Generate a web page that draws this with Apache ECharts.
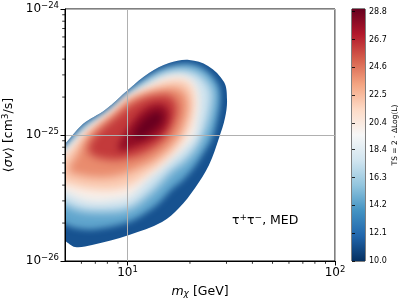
<!DOCTYPE html>
<html><head><meta charset="utf-8">
<script src="https://cdn.jsdelivr.net/npm/echarts@6/dist/echarts.min.js"></script>
<style>html,body{margin:0;padding:0;background:#fff}#c{width:407px;height:305px}</style>
</head><body><div id="c"></div>
<script>
// ---- data: mass in GeV; <sigma v> in units of 1e-26 cm^3/s ----
const xMajorTicks = [10, 100];
const xMinorTicks = [6, 7, 8, 9, 20, 30, 40, 50, 60, 70, 80, 90];
const yMajorTicks = [1, 10, 100];            // x 1e-26
const yMinorTicks = [2, 3, 4, 5, 6, 7, 8, 9, 20, 30, 40, 50, 60, 70, 80, 90];
const colorbarTicks = [10.0, 12.1, 14.2, 16.3, 18.4, 20.4, 22.5, 24.6, 26.7, 28.8];
const contourLevels = [10, 13, 16, 19, 21, 23, 25, 27, 28.2];
const contour10 = [[4.01,5.99],[5.00,8.48],[6.10,12.2],[7.79,15.8],[10.18,23.2],[12.70,31.0],[15.85,37.2],[19.80,39.4],[24.44,35.3],[29.19,26.3],[30.18,19.0],[29.52,13.7],[27.61,9.47],[24.71,5.78],[21.16,3.80],[17.71,2.63],[14.67,2.04],[10.18,1.61],[6.75,1.34],[5.59,1.29],[5.00,1.44],[4.01,1.70]];
const contour13 = [[4.01,5.68],[5.00,8.03],[6.17,11.8],[7.88,15.2],[10.29,22.4],[12.84,29.4],[15.85,34.6],[19.80,36.6],[23.64,32.8],[27.31,24.9],[27.92,18.7],[27.01,13.2],[25.55,9.47],[23.38,7.33],[21.16,5.68],[18.52,4.40],[16.39,3.73],[14.35,2.94],[12.84,2.54],[10.18,2.04],[6.97,1.79],[5.59,1.83],[5.00,1.97],[4.01,2.36]];
const contour16 = [[4.01,5.48],[5.00,7.74],[6.24,11.4],[7.96,14.7],[10.41,21.6],[13.13,28.3],[16.03,32.2],[19.58,32.8],[22.87,29.4],[25.55,22.8],[25.55,17.6],[24.44,12.7],[23.12,10.0],[21.16,7.60],[18.52,5.99],[16.39,5.18],[14.35,4.08],[12.84,3.40],[10.18,2.59],[6.97,2.45],[5.59,2.59],[5.00,2.83],[4.01,3.28]];
const contour19 = [[4.01,5.09],[5.00,7.33],[6.31,10.8],[7.37,13.2],[8.71,16.1],[10.29,20.4],[13.13,25.4],[15.17,28.8],[17.91,29.9],[20.47,27.3],[21.88,22.0],[22.12,16.4],[21.63,12.7],[21.16,10.0],[18.94,8.03],[16.39,6.56],[14.67,5.57],[12.84,4.65],[10.18,3.22],[8.24,3.00],[6.97,2.94],[5.91,3.11],[5.00,3.53],[4.01,4.08]];
const contour21 = [[4.23,5.28],[5.00,6.82],[6.24,10.18],[7.37,12.7],[8.71,15.5],[10.18,19.7],[12.84,23.6],[15.17,26.3],[17.91,27.3],[20.02,24.9],[20.92,19.7],[20.70,15.2],[20.02,12.0],[18.94,9.82],[17.14,7.74],[15.17,6.33],[12.84,5.09],[10.18,3.94],[8.24,3.66],[6.60,3.73],[5.59,3.94],[5.00,4.16],[4.32,4.56]];
const contour23 = [[5.17,5.28],[5.59,6.56],[5.91,7.74],[6.45,9.82],[7.37,12.0],[8.71,14.9],[10.18,18.7],[12.15,21.2],[14.35,22.8],[16.39,23.6],[18.31,22.4],[19.36,19.0],[19.36,15.2],[18.73,12.7],[17.52,9.82],[15.34,7.60],[13.13,6.22],[11.49,5.57],[10.18,5.09],[8.24,4.65],[6.75,4.65],[5.91,4.82],[5.40,5.00]];
const contour25 = [[6.45,7.60],[6.75,9.13],[7.37,10.8],[8.71,13.7],[10.18,17.0],[12.15,19.7],[14.35,20.8],[16.03,20.4],[17.14,18.3],[17.33,15.2],[16.76,12.7],[15.68,10.18],[14.35,8.64],[12.84,7.60],[11.49,6.94],[10.18,6.56],[8.71,6.33],[7.37,6.56],[6.75,6.94]];
const contour27 = [[9.01,7.88],[9.42,9.47],[10.29,12.0],[11.49,14.9],[12.84,17.0],[14.35,17.6],[15.51,16.4],[15.85,14.1],[15.34,11.8],[14.35,10.18],[12.98,9.13],[11.49,8.33],[10.18,7.74],[9.42,7.46]];
const contour28 = [[10.75,10.0],[11.49,12.2],[12.56,14.1],[13.88,15.2],[14.67,14.4],[14.35,12.4],[13.27,11.0],[12.02,9.82],[11.11,9.47]];
const contours = [contour10, contour13, contour16, contour19, contour21, contour23, contour25, contour27, contour28];

// ---- style ----
const bandTS = [11.2, 14.5, 17.5, 20.0, 22.0, 24.0, 26.2, 27.9, 28.9];
const bandBlur = [0, 6, 10, 9, 8, 8, 9, 7, 6];
const TS_MIN = 10, TS_MAX = 29.0;
const rdbu = ['#053061','#2166ac','#4393c3','#92c5de','#d1e5f0','#f7f7f7','#fddbc7','#f4a582','#d6604d','#b2182b','#67001f'];
function hex2rgb(h){return [parseInt(h.slice(1,3),16),parseInt(h.slice(3,5),16),parseInt(h.slice(5,7),16)];}
function cmap(ts){
  let t = (ts - TS_MIN) / (TS_MAX - TS_MIN); t = Math.max(0, Math.min(1, t));
  const x = t * 10, i = Math.min(9, Math.floor(x)), f = x - i;
  const a = hex2rgb(rdbu[i]), b = hex2rgb(rdbu[i+1]);
  return 'rgb(' + a.map((v,k)=>Math.round(v + (b[k]-v)*f)).join(',') + ')';
}
const FONT = 'DejaVu Sans';
const SHIFT = 3000;

const chart = echarts.init(document.getElementById('c'), null, {renderer:'canvas'});
function powLabel(offset){
  return function(v){
    const e = Math.round(Math.log10(v)) + offset;
    return '{b|10}{s|' + (e < 0 ? '\u2212' + (-e) : e) + '}';
  };
}
const richPow = {
  b:{fontSize:12, fontFamily:FONT, color:'#000', lineHeight:15},
  s:{fontSize:8.5, fontFamily:FONT, color:'#000', verticalAlign:'top', lineHeight:15, padding:[0,0,6,0]}
};
const tickLine = {stroke:'#000', lineWidth:0.8};

const option = {
  animation:false,
  backgroundColor:'#fff',
  grid:[
    {left:65, top:9, width:270, height:252, show:true, borderColor:'#000', borderWidth:1, backgroundColor:'transparent', containLabel:false, outerBoundsMode:'none'},
    {left:352, top:9, width:13, height:252, show:true, borderColor:'#000', borderWidth:1, backgroundColor:'transparent', containLabel:false, outerBoundsMode:'none'}
  ],
  title:{
    text:'\u03c4{s|+}\u03c4{s|\u2212}, MED', left:227, top:208,
    textStyle:{fontSize:12.5, fontWeight:'normal', fontFamily:FONT, color:'#000',
      rich:{s:{fontSize:9, fontFamily:FONT, color:'#000', verticalAlign:'top', padding:[0,0,6,0]}}}
  },
  xAxis:[
    {type:'log', logBase:10, min:5, max:100, gridIndex:0, position:'bottom', z:5,
      name:'{i|m}{sub|\u03c7} [GeV]', nameLocation:'middle', nameGap:23,
      nameTextStyle:{fontSize:12.5, fontFamily:FONT, color:'#000',
        rich:{i:{fontSize:12.5, fontStyle:'italic', fontFamily:FONT}, sub:{fontSize:9, fontFamily:FONT, fontStyle:'italic', verticalAlign:'bottom', padding:[5,0,0,0]}}},
      axisLine:{show:true, lineStyle:{color:'#000', width:1}},
      axisTick:{show:true, length:4.5, customValues:xMajorTicks, lineStyle:{color:'#000', width:1}},
      axisLabel:{show:true, customValues:xMajorTicks, margin:4, formatter:powLabel(0), rich:richPow},
      splitLine:{show:true, lineStyle:{color:'#b0b0b0', width:1}}},
    {type:'value', min:0, max:1, gridIndex:1, show:false}
  ],
  yAxis:[
    {type:'log', logBase:10, min:1, max:100, gridIndex:0, position:'left', z:5,
      name:'\u27e8{i|\u03c3v}\u27e9 [cm{s|3}/s]', nameLocation:'middle', nameGap:44, nameRotate:90,
      nameTextStyle:{fontSize:12.5, fontFamily:FONT, color:'#000',
        rich:{i:{fontSize:12.5, fontStyle:'italic', fontFamily:FONT}, s:{fontSize:9, fontFamily:FONT, verticalAlign:'top', padding:[0,0,6,0]}}},
      axisLine:{show:true, lineStyle:{color:'#000', width:1}},
      axisTick:{show:true, length:4.5, customValues:yMajorTicks, lineStyle:{color:'#000', width:1}},
      axisLabel:{show:true, customValues:yMajorTicks, margin:6, formatter:powLabel(-26), rich:richPow},
      splitLine:{show:true, lineStyle:{color:'#b0b0b0', width:1}}},
    {type:'value', min:TS_MIN, max:TS_MAX, gridIndex:1, position:'right', z:5,
      name:'TS = 2 \u00b7 \u0394Log(L)', nameLocation:'middle', nameGap:25, nameRotate:90,
      nameTextStyle:{fontSize:7.5, fontFamily:FONT, color:'#000'},
      axisLine:{show:false},
      axisTick:{show:true, length:3, customValues:colorbarTicks, lineStyle:{color:'#000', width:0.8}},
      axisLabel:{show:true, customValues:colorbarTicks, margin:4, fontSize:8, fontFamily:FONT, color:'#000', formatter:v=>v.toFixed(1)},
      splitLine:{show:false}}
  ],
  series:[
    {
      type:'custom', coordinateSystem:'cartesian2d', xAxisIndex:0, yAxisIndex:0, clip:true, z:2,
      data: contours.map((c, i) => [c[0][0], c[0][1], contourLevels[i]]),
      renderItem:function(params, api){
        const i = params.dataIndex;
        const pts = contours[i].map(p => api.coord([p[0], p[1]]));
        const col = cmap(bandTS[i]);
        if (i === 0) {
          return {type:'polygon', shape:{points:pts, smooth:0.35}, style:{fill:col}};
        }
        const outer = contours[0].map(p => api.coord([p[0], p[1]]));
        return {
          type:'group',
          clipPath:{type:'polygon', shape:{points:outer, smooth:0.35}},
          children:[{
            type:'polygon', x:-SHIFT, shape:{points:pts, smooth:0.35},
            style:{fill:col, shadowBlur:bandBlur[i], shadowColor:col, shadowOffsetX:SHIFT}
          }]
        };
      }
    },
    {
      type:'custom', coordinateSystem:'cartesian2d', xAxisIndex:1, yAxisIndex:1,
      data:[[0, TS_MIN]],
      renderItem:function(params, api){
        const p0 = api.coord([0, TS_MAX]), p1 = api.coord([1, TS_MIN]);
        const stops = rdbu.map((c,k)=>({offset:1 - k/10, color:c}));
        stops.reverse();
        return {type:'rect', shape:{x:p0[0], y:p0[1], width:p1[0]-p0[0], height:p1[1]-p0[1]},
          style:{fill:new echarts.graphic.LinearGradient(0,0,0,1, stops)}};
      }
    },
    {
      type:'custom', coordinateSystem:'cartesian2d', xAxisIndex:0, yAxisIndex:0, clip:false, z:6,
      data: xMinorTicks.map(v => [v, 1]),
      renderItem:function(params, api){
        const p = api.coord([api.value(0), 1]);
        return {type:'line', shape:{x1:p[0], y1:p[1], x2:p[0], y2:p[1] + 2.8}, style:tickLine};
      }
    },
    {
      type:'custom', coordinateSystem:'cartesian2d', xAxisIndex:0, yAxisIndex:0, clip:false, z:6,
      data: yMinorTicks.map(v => [5, v]),
      renderItem:function(params, api){
        const p = api.coord([5, api.value(1)]);
        return {type:'line', shape:{x1:p[0], y1:p[1], x2:p[0] - 2.8, y2:p[1]}, style:tickLine};
      }
    }
  ]
};
chart.setOption(option);
</script></body></html>
